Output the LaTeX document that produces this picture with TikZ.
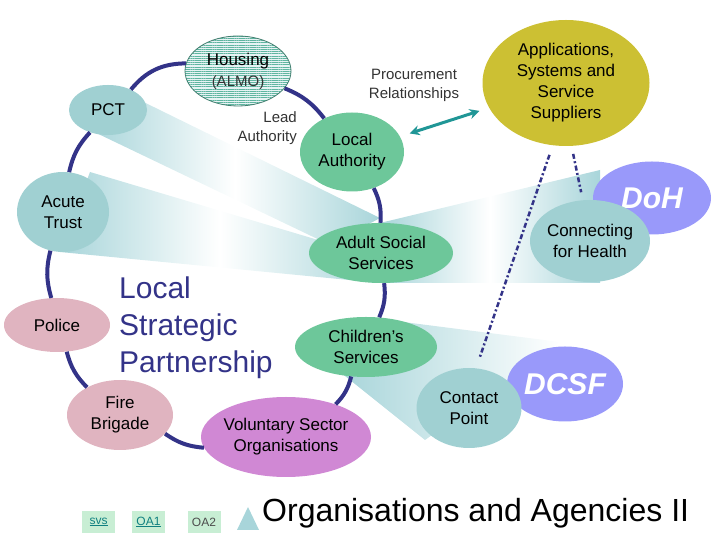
\documentclass[tikz,border=0pt]{standalone}
\usepackage{fontspec}
\setmainfont{Liberation Sans}
\usetikzlibrary{arrows.meta,shapes.geometric,patterns.meta}
\definecolor{lsnavy}{HTML}{333388}
\definecolor{lsteal}{HTML}{A0D0D2}
\definecolor{lsgreen}{HTML}{6DC79A}
\definecolor{lspink}{HTML}{E0B4C0}
\definecolor{lspurple}{HTML}{D088D4}
\definecolor{lsyellow}{HTML}{CCC033}
\definecolor{lsblue}{HTML}{9999FA}
\definecolor{lsbeam}{HTML}{A8D5DA}
\definecolor{lsarrow}{HTML}{209696}
\definecolor{lshouse}{HTML}{5FB5A0}
\definecolor{lsmint}{HTML}{C8EED4}
\definecolor{lslink}{HTML}{108080}

\begin{document}
\begin{tikzpicture}[x=1pt,y=1pt,>=Stealth]
  \tikzset{org/.style={ellipse,inner sep=-3pt,align=center,font=\fontsize{17}{21}\selectfont},
    dept/.style={org,fill=lsblue,text=white,font=\fontsize{30}{34}\selectfont\bfseries\itshape},
    housing/.style={org,draw=lshouse!70!black,line width=0.8pt,preaction={fill=lsteal!25},
      pattern={Lines[distance=2.2pt,line width=0.8pt]},pattern color=lshouse},
    ring/.style={lsnavy,line width=4pt,bend left=15},
    beam/.style={left color=lsbeam,right color=lsbeam,middle color=white},
    supply/.style={lsnavy,line width=2.5pt,dash pattern=on 5pt off 2.5pt on 2pt off 2.5pt,
      shorten <=10pt,shorten >=10pt},
    proc/.style={lsarrow,line width=3pt,{Stealth[length=10pt,width=10pt]}-{Stealth[length=10pt,width=10pt]},
      shorten <=10pt,shorten >=10pt},
    note/.style={font=\fontsize{15}{19}\selectfont,text=black!80,inner sep=0pt},
    btn/.style={fill=lsmint,minimum width=33pt,minimum height=22pt,inner sep=0pt,font=\fontsize{12}{14}\selectfont}}
  \useasboundingbox (0,0) rectangle (720,540);

  \shade[beam] (115,452) -- (380,322) -- (330,295) -- (90,410) -- cycle;
  \shade[beam] (90,368) -- (345,292) -- (380,257) -- (60,288) -- cycle;
  \shade[beam] (380,317) -- (600,370) -- (600,257) -- (380,257) -- cycle;
  \shade[left color=lsbeam,right color=white] (372,222) -- (560,198) -- (470,132) -- (425,100) -- (340,168) -- cycle;

  \node[org,fill=lsteal,minimum width=78pt,minimum height=50pt] (pct) at (108,430) {PCT};
  \node[org,fill=lsteal,minimum width=92pt,minimum height=80pt] (acute) at (63,328) {Acute\\Trust};
  \node[org,fill=lspink,minimum width=106pt,minimum height=54pt] (police) at (57,215) {Police};
  \node[org,fill=lspink,minimum width=106pt,minimum height=70pt] (fire) at (120,125) {Fire\\Brigade};
  \node[org,fill=lspurple,minimum width=170pt,minimum height=80pt] (vol) at (286,103) {Voluntary Sector\\Organisations};
  \node[org,fill=lsgreen,minimum width=142pt,minimum height=60pt] (child) at (366,193) {Children’s\\Services};
  \node[org,fill=lsgreen,minimum width=144pt,minimum height=60pt] (adult) at (381,287) {Adult Social\\Services};
  \node[org,fill=lsgreen,minimum width=104pt,minimum height=79pt] (la) at (352,388) {Local\\Authority};
  \node[housing,minimum width=106pt,minimum height=70pt] (housing) at (238,469)
    {Housing\\{\fontsize{15}{19}\selectfont\color{black!80}(ALMO)}};
  \node[org,fill=lsyellow,minimum width=167pt,minimum height=126pt] (app) at (566,457)
    {Applications,\\Systems and\\Service\\Suppliers};
  \node[dept,minimum width=118pt,minimum height=73pt] (doh) at (652,342) {DoH};
  \node[org,fill=lsteal,minimum width=120pt,minimum height=82pt] (cfh) at (590,299) {Connecting\\for Health};
  \node[dept,minimum width=116pt,minimum height=75pt] (dcsf) at (565,156) {DCSF};
  \node[org,fill=lsteal,minimum width=105pt,minimum height=80pt] (cp) at (469,132) {Contact\\Point};

  \draw[ring] (housing) to (la);
  \draw[ring] (la) to (adult);
  \draw[ring] (adult) to (child);
  \draw[ring] (child) to (vol);
  \draw[ring] (vol) to (fire);
  \draw[ring] (fire) to (police);
  \draw[ring] (police) to (acute);
  \draw[ring] (acute) to (pct);
  \draw[ring,bend left=25] (pct) to (housing);

  \draw[proc] (la) -- (app);
  \draw[supply] (app.258) -- (cp.80);
  \draw[supply,shorten <=8pt,shorten >=8pt] (app.275) -- (cfh.100);

  \node[note,align=right,anchor=east] (lead) at (297,412) {Lead\\Authority};
  \node[note,align=center] (procure) at (414,455) {Procurement\\Relationships};
  \node[text=lsnavy,font=\fontsize{30}{37}\selectfont,align=left,inner sep=0pt,anchor=north west] (lsp)
    at (119,263) {Local\\Strategic\\Partnership};

  \node[btn,text=lslink] (svs) at (98.5,18) {\underline{svs}};
  \node[btn,text=lslink] (oa1) at (148.5,18) {\underline{OA1}};
  \node[btn,text=black!70] (oa2) at (204,18) {OA2};
  \fill[lsbeam] (237,10) -- (259,10) -- (248,33) -- cycle;
  \node[anchor=base west,inner sep=0pt,font=\fontsize{32}{38}\selectfont] (title) at (262,18)
    {Organisations and Agencies II};
\end{tikzpicture}
\end{document}
